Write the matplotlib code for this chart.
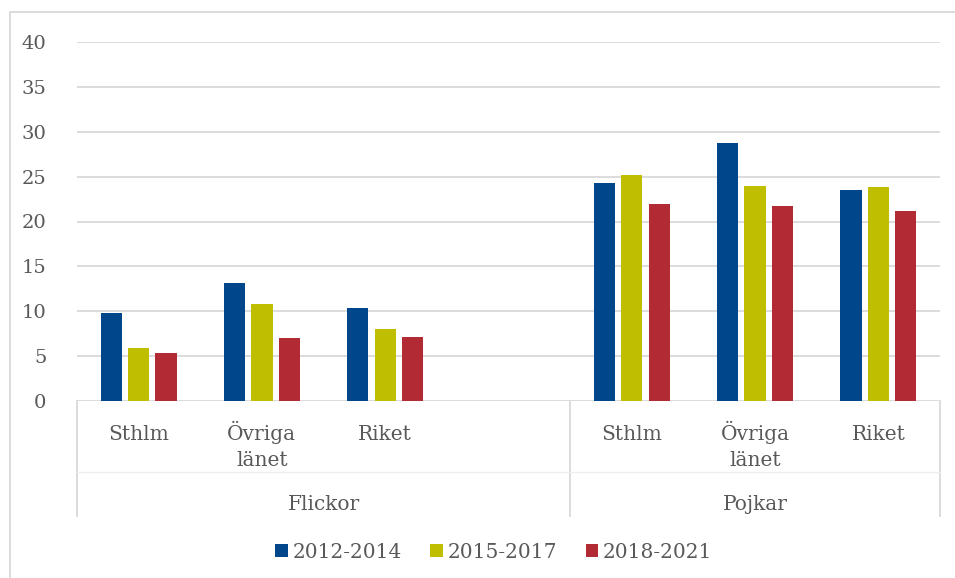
import numpy as np
import matplotlib.pyplot as plt
from matplotlib.patches import Rectangle, Patch

# data
groups = ["Flickor", "Pojkar"]
places = ["Sthlm", "Övriga\nlänet", "Riket"]
periods = ["2012-2014", "2015-2017", "2018-2021"]
flickor_2012 = [9.8, 13.2, 10.4]
flickor_2015 = [5.85, 10.8, 8.0]
flickor_2018 = [5.35, 7.0, 7.1]
pojkar_2012 = [24.3, 28.7, 23.5]
pojkar_2015 = [25.2, 23.9, 23.8]
pojkar_2018 = [22.0, 21.7, 21.2]
yticks = [0, 5, 10, 15, 20, 25, 30, 35, 40]

colors = ["#00468A", "#BFBE00", "#B22A33"]
txt = "#595959"
grid = "#D9D9D9"
font = "DejaVu Serif"

W, H = 955, 578
fig = plt.figure(figsize=(W / 100, H / 100), dpi=100)

# chart area border
fig.patches.append(Rectangle((10 / W, -0.1), 1.2, 1 - 12 / H + 0.1, transform=fig.transFigure,
                             fill=False, edgecolor=grid, linewidth=1.3))

x0, x1, y0, y1 = 77, 940, 42, 401
ax = fig.add_axes([x0 / W, 1 - y1 / H, (x1 - x0) / W, (y1 - y0) / H])

# slots: 3 places for Flickor + empty slot, then 3 for Pojkar
fl_x = np.arange(3)
pj_x = np.arange(3) + 4
series_f = [flickor_2012, flickor_2015, flickor_2018]
series_p = [pojkar_2012, pojkar_2015, pojkar_2018]
step, bw = 0.222, 0.172
for i in range(3):
    off = (i - 1) * step
    ax.bar(fl_x + off, series_f[i], width=bw, color=colors[i], zorder=3)
    ax.bar(pj_x + off, series_p[i], width=bw, color=colors[i], zorder=3)

ax.set_xlim(-0.5, 6.5)
ax.set_ylim(0, 40)
ax.set_yticks(yticks)
ax.set_yticklabels([str(v) for v in yticks], fontfamily=font, fontsize=14, color=txt)
ax.tick_params(axis="y", length=0, pad=22)
ax.set_xticks([])
ax.grid(axis="y", color=grid, linewidth=1.3, zorder=0)
for s in ax.spines.values():
    s.set_visible(False)

# multi-level category axis
tr = ax.get_xaxis_transform()
h_ax = y1 - y0
def fy(py):
    return (y1 - py) / h_ax

for xv in [-0.5, 3.5, 6.5]:
    ax.plot([xv, xv], [0, fy(516)], transform=tr, color=grid, linewidth=1.3, clip_on=False)
ax.plot([-0.5, 6.5], [fy(472), fy(472)], transform=tr, color="#EEEEEE", linewidth=1, clip_on=False)

for xs in [fl_x, pj_x]:
    for xv, lab in zip(xs, places):
        for k, line in enumerate(lab.split("\n")):
            ax.text(xv, fy(440 + 26 * k), line, transform=tr, ha="center", va="baseline",
                    fontfamily=font, fontsize=14.5, color=txt)
ax.text(1.5, fy(510), groups[0], transform=tr, ha="center", va="baseline", fontfamily=font,
        fontsize=14.5, color=txt)
ax.text(5.0, fy(510), groups[1], transform=tr, ha="center", va="baseline", fontfamily=font,
        fontsize=14.5, color=txt)

handles = [Patch(facecolor=c) for c in colors]
leg = fig.legend(handles, periods, loc="center", bbox_to_anchor=(494 / W, 1 - 552 / H), ncol=3,
                 frameon=False, handlelength=0.62, handleheight=0.62, handletextpad=0.25,
                 columnspacing=1.4, prop={"family": font, "size": 14.5})
for t in leg.get_texts():
    t.set_color(txt)

fig.savefig("out.png", dpi=100)
